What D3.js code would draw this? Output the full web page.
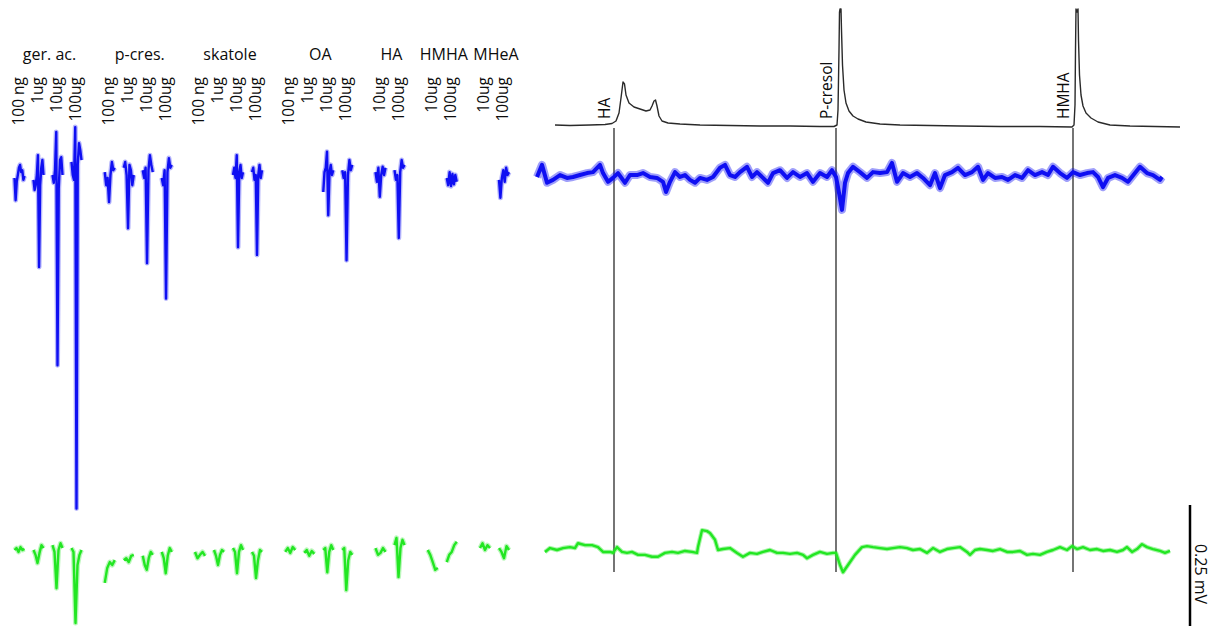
<!DOCTYPE html>
<html>
<head>
<meta charset="utf-8">
<script src="https://cdn.jsdelivr.net/npm/d3@7"></script>
<style>
  body { margin: 0; background: #fff; }
  svg { display: block; background: #fff; }
  text { font-family: "Open Sans", "Noto Sans", sans-serif; fill: #0c0c0c; }
</style>
</head>
<body>
<svg id="fig" width="1215" height="626"></svg>
<script>
// ---- Single-puff stimulations: odorants and doses ----
const groups = ["ger. ac.", "p-cres.", "skatole", "OA", "HA", "HMHA", "MHeA"];
const groupDoses = [
  ["100 ng", "1ug", "10ug", "100ug"],
  ["100 ng", "1ug", "10ug", "100ug"],
  ["100 ng", "1ug", "10ug", "100ug"],
  ["100 ng", "1ug", "10ug", "100ug"],
  ["10ug", "100ug"],
  ["10ug", "100ug"],
  ["10ug", "100ug"]
];

// Antennal responses (µV) for each dose, in the order above; null = no trace shown
const blueResponses = [
  [-4, -50, -12, 2, 17, 23, 8, 12, -8, 0],
  [-8, -29, -19, 2, 43, -188, -19, 17, 33, 2],
  [2, -14, 12, 91, -391, -25, 33, 39, 2],
  [29, 2, -8, 101, -687, 23, 68, 54, 33],
  [8, -19, -4, -54, 2, 29, 12, 17],
  [17, 29, 2, -108, 23, 12, -19, 2],
  [12, -4, 17, -180, 12, 43, 23, 8],
  [-4, -19, 12, -253, 8, 37, 17, 23],
  null,
  null,
  [2, 17, -4, 43, -147, 8, 23, -4, 8],
  [8, 17, -8, 2, -163, 2, 23, -4, 12],
  null,
  null,
  [-33, 8, 17, 50, -81, 8, 23, 2, 12],
  [12, -4, 8, -174, 2, 33, 12, 23],
  [8, -12, 17, -43, 2, 19, 2, 17],
  [12, -8, 2, -128, 8, 33, 17, 23],
  null,
  [-4, -19, 8, -21, 4, -17, 2, -12],
  null,
  [-8, -45, -4, 12, -12, 17, 2, 8]
];

const greenResponses = [
  [0, 4, -4, 6, 0, 2],
  [0, -10, -27, -6, 10, 4],
  [10, -4, -79, 0, 14, 4],
  [4, -4, -151, -31, -10, 0],
  [-68, -37, -25, -31, -21],
  [-21, -17, -25, -12, -10],
  [-12, -31, -41, -17, -4, -10],
  [-4, -17, -48, -12, 4, -4],
  [-4, -17, -10, -4, -12],
  [0, -12, -31, -10, 0, -4],
  [4, -4, -48, -4, 10, 0],
  [-4, -12, -58, -21, 0, -4],
  [-4, 4, -6, 6, 0],
  [-6, 0, -12, -2, -8],
  [0, 4, -46, -4, 10, 0],
  [0, 4, -83, -21, -4, -10],
  [4, -10, -6, 4, -4],
  [10, 25, -56, 4, 21, 10],
  [0, -10, -25, -41, -37],
  [-25, -10, -4, 10, 17],
  [4, 14, 0, 10, 4],
  [4, -4, -17, 8, 0]
];

// ---- GC-EAD run: retention time (s) ----
// FID chromatogram
const fidTime = [36, 66, 106, 136, 150, 158, 164, 168, 172, 175, 178, 184, 194, 206, 218, 226, 230, 234, 237, 240, 244, 250, 262, 286, 326, 386, 446, 506, 566, 594,
  600, 602, 604, 605, 606, 607, 608, 609, 611, 614, 618, 624, 632, 642, 658, 686, 726, 786, 846, 926, 1006, 1070,
  1074, 1076, 1077, 1078, 1080, 1082, 1083, 1085, 1088, 1092, 1098, 1108, 1122, 1146, 1186, 1236, 1286];
const fidSignal = [2, 1.5, 2, 2.5, 3.5, 6, 14, 29, 45, 43, 32, 24, 20, 18, 16, 17, 21, 26, 27, 21, 11, 6, 4, 3, 2, 1.5, 1, 1, 0.5, 0.5,
  2, 17, 77, 115, 118, 115, 118, 97, 62, 37, 24, 16, 11, 8, 5, 3, 2, 1.5, 1, 0.5, 0.5, 0,
  2, 22, 77, 118, 115, 118, 87, 52, 32, 21, 14, 9, 5, 2, 1, 0.5, 0];

// EAD, antenna 1 (µV)
const blueTime = [0, 10, 20, 32, 46, 60, 72, 86, 100, 112, 126, 132, 142, 152, 162, 176, 186, 200, 212, 226, 240, 252, 258, 266, 276, 286, 296, 306, 316, 326,
  340, 352, 366, 376, 386, 396, 406, 420, 430, 440, 452, 462, 472, 486, 500, 512, 526, 540, 552, 566, 580, 590, 598, 602, 610, 616, 622, 632, 646, 660,
  672, 686, 700, 710, 720, 732, 746, 760, 772, 786, 796, 806, 816, 830, 842, 856, 870, 882, 892, 902, 916, 930, 942, 956, 970, 982, 996, 1010, 1022, 1032,
  1046, 1060, 1072, 1086, 1100, 1112, 1122, 1132, 1142, 1156, 1170, 1182, 1196, 1206, 1220, 1232, 1246, 1250];
const blueValue = [-2, 23, -14, -8, 2, -4, -2, 2, 6, 8, 23, 6, -12, -4, 6, -14, 2, 2, 6, -2, -4, -12, -33, -12, 8, -2, 2, -8, -14, -4,
  -8, -2, 17, 23, 2, -2, 8, 19, -2, 8, -4, -14, 6, 12, -4, 8, -2, 6, -12, 6, -2, 12, -2, -23, -70, -14, 6, 19, 8, -4,
  8, 6, 8, 27, -12, 6, -2, 6, -4, -19, 6, -25, 2, 8, 17, 2, 8, 19, -8, 6, -4, -2, -8, 2, -4, 12, 2, 8, 2, 19,
  6, -4, 8, 2, 6, 8, -2, -23, -4, 2, -4, -12, 6, 19, 6, 2, -8, -2];

// EAD, antenna 2 (µV)
const greenTime = [16, 26, 40, 52, 66, 76, 82, 96, 110, 122, 132, 146, 152, 160, 170, 180, 190, 202, 216, 230, 242, 256, 270, 282, 296, 310, 320, 322, 330, 340,
  346, 356, 362, 372, 386, 400, 412, 426, 440, 452, 466, 480, 492, 506, 520, 532, 540, 552, 566, 580, 592, 598, 606, 612, 622, 636, 650, 660, 672, 686,
  700, 712, 726, 740, 752, 766, 780, 792, 806, 820, 832, 846, 860, 866, 876, 886, 900, 912, 926, 940, 952, 966, 980, 992, 1006, 1020, 1032, 1046, 1060, 1070,
  1080, 1092, 1106, 1120, 1132, 1146, 1160, 1172, 1180, 1190, 1200, 1210, 1220, 1232, 1246, 1256, 1266];
const greenValue = [-4, 4, 0, 4, 6, 4, 14, 10, 10, 6, -4, -4, -6, 6, -4, -6, -4, -10, -10, -14, -14, -6, -4, -6, -2, -4, -6, 6, 41, 39,
  35, 21, 0, 2, 4, -6, -14, -6, -8, -4, 0, -6, -6, -8, -6, -10, -17, -10, -4, -8, -6, -6, -31, -46, -31, -10, 6, 8, 6, 4,
  2, 4, 6, 4, 0, 2, -6, 4, -4, 2, 4, 6, -4, -10, 0, 2, 0, -2, 2, -4, -4, -2, -10, -8, -10, -4, 0, 6, 0, 8,
  2, 6, 0, 2, -2, 0, -4, 0, 6, -4, 2, 12, 6, 2, -2, -6, -2];

// Identified compounds and their retention times (s)
const peakNames = ["HA", "P-cresol", "HMHA"];
const peakTimes = [154, 598, 1072];

// Calibration bar
const scaleBarMv = 0.25;

// ---- Drawing ----
const svg = d3.select("#fig");
const BLUE = "#0f0ff2", GREEN = "#22e622", INK = "#2a2a2a";

// vertical scales (µV) for the two antennae, common gain
const yBlue = d3.scaleLinear().domain([0, 250]).range([176, 55]);
const yGreen = d3.scaleLinear().domain([0, 250]).range([550, 429]);
// FID scale
const yFid = d3.scaleLinear().domain([0, 118]).range([127, 9]);
// retention-time scale
const xTime = d3.scaleLinear().domain([0, 1250]).range([537, 1162]);

// column slots for the single-puff stimulations, with a gap between odorants
const groupGap = 0.75;
const columns = [];
let slot = 0;
groups.forEach((g, gi) => {
  groupDoses[gi].forEach((d, di) => {
    columns.push({ group: gi, dose: d, slot: slot + gi * groupGap });
    slot += 1;
  });
});
const xSlot = d3.scaleLinear().domain([0, 1]).range([17, 36]);

// odorant names
groups.forEach((g, gi) => {
  const cols = columns.filter(c => c.group === gi);
  const cx = d3.mean(cols, c => xSlot(c.slot)) + 4;
  svg.append("text").attr("x", cx).attr("y", 60)
    .attr("text-anchor", "middle").attr("font-size", 16).text(g);
});

// dose labels, rotated
columns.forEach(c => {
  const x = xSlot(c.slot) + 6.5;
  svg.append("text")
    .attr("transform", `translate(${x},77) rotate(-90)`)
    .attr("text-anchor", "end").attr("font-size", 15.5).text(c.dose);
});

// short response traces
function drawResponses(data, yScale, color) {
  const g = svg.append("g").attr("fill", "none");
  data.forEach((vals, i) => {
    if (!vals) return;
    const cx = xSlot(columns[i].slot) + 2.5;
    const xi = d3.scaleLinear().domain([0, vals.length - 1]).range([cx - 5, cx + 5]);
    const line = d3.line().x((v, k) => xi(k)).y(v => yScale(v));
    g.append("path").attr("d", line(vals)).attr("stroke", color)
      .attr("stroke-width", 5).attr("stroke-opacity", 0.3).attr("stroke-linejoin", "round");
    g.append("path").attr("d", line(vals)).attr("stroke", color)
      .attr("stroke-width", 2.4).attr("stroke-linejoin", "round");
  });
}
drawResponses(blueResponses, yBlue, BLUE);
drawResponses(greenResponses, yGreen, GREEN);

// retention marker lines
peakTimes.forEach((t, i) => {
  svg.append("line")
    .attr("x1", xTime(t)).attr("x2", xTime(t))
    .attr("y1", 128).attr("y2", 572)
    .attr("stroke", INK).attr("stroke-width", 1.3);
  svg.append("text")
    .attr("transform", `translate(${xTime(t) - 4},119) rotate(-90)`)
    .attr("text-anchor", "start").attr("font-size", 15.5).text(peakNames[i]);
});

// FID chromatogram
const fidLine = d3.line().x((t) => xTime(t)).y((t, i) => yFid(fidSignal[i]));
svg.append("path").attr("d", fidLine(fidTime))
  .attr("fill", "none").attr("stroke", INK).attr("stroke-width", 1.4)
  .attr("stroke-linejoin", "round");

// continuous EAD traces
function drawTrace(times, values, yScale, color, halo, width) {
  const line = d3.line().x(t => xTime(t)).y((t, i) => yScale(values[i]));
  svg.append("path").attr("d", line(times)).attr("fill", "none")
    .attr("stroke", color).attr("stroke-width", halo).attr("stroke-opacity", 0.4)
    .attr("stroke-linejoin", "round");
  svg.append("path").attr("d", line(times)).attr("fill", "none")
    .attr("stroke", color).attr("stroke-width", width).attr("stroke-linejoin", "round");
}
drawTrace(blueTime, blueValue, yBlue, BLUE, 8, 4);
drawTrace(greenTime, greenValue, yGreen, GREEN, 4.5, 2.4);

// calibration bar
const barLen = yGreen(0) - yGreen(scaleBarMv * 1000);
const barBottom = 626;
svg.append("line")
  .attr("x1", 1190).attr("x2", 1190)
  .attr("y1", barBottom).attr("y2", barBottom - barLen)
  .attr("stroke", "#000").attr("stroke-width", 2.5);
svg.append("text")
  .attr("transform", `translate(1195,574) rotate(90)`)
  .attr("text-anchor", "middle").attr("font-size", 16).text(`${scaleBarMv} mV`);
</script>
</body>
</html>
